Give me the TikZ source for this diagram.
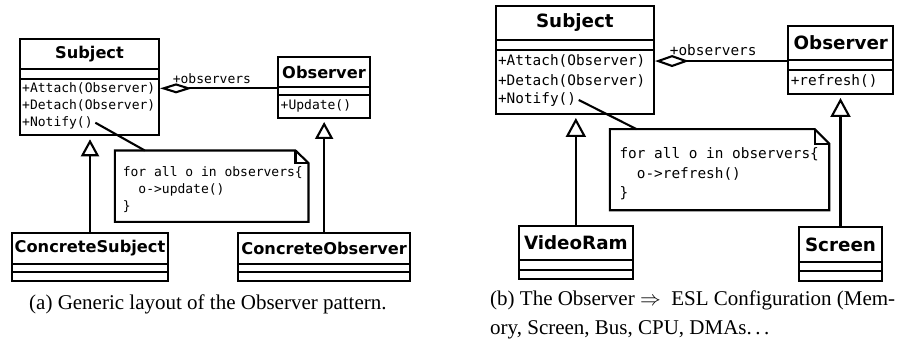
\documentclass[tikz,border=0pt]{standalone}
\usepackage{fontspec}
\setmainfont{Liberation Serif}
\newfontfamily\umlsans{DejaVu Sans}
\newfontfamily\umlmono{DejaVu Sans Mono}
\usetikzlibrary{arrows.meta,fit,calc}

\tikzset{
  box/.style={draw, line width=2.1pt, inner sep=0pt},
  wire/.style={line width=2.1pt},
  gentip/.style={wire, shorten >=#1},
  genA/.style={gentip=3.2pt, -{Triangle[open,length=17pt,width=18pt]}},
  genB/.style={gentip=2.6pt, -{Triangle[open,length=19pt,width=20pt]}},
  aggrA/.style={wire, -{Diamond[open,length=32pt,width=10pt]}},
  aggrB/.style={wire, -{Diamond[open,length=34pt,width=12pt]}},
  nameA/.style={font=\umlsans\bfseries\fontsize{16.2}{19}\selectfont, inner sep=0pt},
  nameB/.style={font=\umlsans\bfseries\fontsize{18.3}{22}\selectfont, inner sep=0pt},
  opA/.style={font=\umlmono\fontsize{13}{16}\selectfont, inner sep=0pt, anchor=west},
  opB/.style={font=\umlmono\fontsize{14.4}{17}\selectfont, inner sep=0pt, anchor=west},
  txtA/.style={font=\umlmono\fontsize{13}{16}\selectfont, inner sep=0pt, anchor=base west},
  txtB/.style={font=\umlmono\fontsize{14.4}{17}\selectfont, inner sep=0pt, anchor=base west},
  capt/.style={font=\fontsize{21}{25}\selectfont, inner sep=0pt},
  notebox/.style={inner sep=0pt},
}

\begin{document}
\begin{tikzpicture}[x=1pt,y=-1pt]
\useasboundingbox (0,0) rectangle (899,341);

% ---------------- (a) generic layout ----------------
% Subject
\node[box, fit={(20,39.3) (159,69.3)}] (subjA) {};
\node[box, fit={(20,69.3) (159,79.3)}] (subjAattr) {};
\node[box, fit={(20,79.3) (159,135)}] (subjAops) {};
\node[nameA] (subjAname) at (subjA.center) {Subject};
\node[opA] (attachA) at (22,88.3) {+Attach(Observer)};
\node[opA] (detachA) at (22,105.6) {+Detach(Observer)};
\node[opA] (notifyA) at (22,122.7) {+Notify()};

% Observer
\node[box, fit={(278,56.7) (370,87.3)}] (obsA) {};
\node[box, fit={(278,87.3) (370,95.3)}] (obsAattr) {};
\node[box, fit={(278,95.3) (370,117.7)}] (obsAops) {};
\node[nameA] (obsAname) at (obsA.center) {Observer};
\node[opA] (updateA) at (280.5,106.2) {+Update()};

% ConcreteSubject
\node[box, fit={(11.7,232.7) (168.3,264)}] (csA) {};
\node[box, fit={(11.7,264) (168.3,272)}] (csAattr) {};
\node[box, fit={(11.7,272) (168.3,280.7)}] (csAops) {};
\node[nameA] (csAname) at (csA.center) {ConcreteSubject};

% ConcreteObserver
\node[box, fit={(238.3,232.7) (410,264)}] (coA) {};
\node[box, fit={(238.3,264) (410,272)}] (coAattr) {};
\node[box, fit={(238.3,272) (410,280.7)}] (coAops) {};
\node[nameA] (coAname) at (coA.center) {ConcreteObserver};

% note
\node[notebox, fit={(115,150.7) (308.3,221.7)}] (noteA) {};
\draw[wire, line join=miter] ($(noteA.north east)+(-13,0)$) -- (noteA.north west)
  -- (noteA.south west) -- (noteA.south east) -- ($(noteA.north east)+(0,12.5)$) -- cycle;
\draw[wire] ($(noteA.north east)+(-13,0)$) -- ++(0,12.5) -- ($(noteA.north east)+(0,12.5)$);
\node[txtA] (noteA1) at (122.6,176.2) {for all o in observers\{};
\node[txtA] (noteA2) at (122.6,193.5) {\ \ o->update()};
\node[txtA] (noteA3) at (122.6,210.8) {\}};

% connectors
\draw[aggrA] (obsA.south west) -- (subjAops.east |- obsA.south)
  node[opA, pos=0.9, yshift=9.5pt] (rolesA) {+observers};
\draw[genA] (csA.north) -- (csA.north |- subjAops.south);
\draw[genA] (coA.north) -- (coA.north |- obsAops.south);
\draw[wire] ([xshift=2.5pt]notifyA.east) -- ($(noteA.north west)+(30,0)$);

% ---------------- (b) ESL configuration ----------------
% Subject
\node[box, fit={(495.7,6) (654,40)}] (subjB) {};
\node[box, fit={(495.7,40) (654,50)}] (subjBattr) {};
\node[box, fit={(495.7,50) (654,114.3)}] (subjBops) {};
\node[nameB] (subjBname) at (subjB.center) {Subject};
\node[opB] (attachB) at (497.8,61.3) {+Attach(Observer)};
\node[opB] (detachB) at (497.8,80.8) {+Detach(Observer)};
\node[opB] (notifyB) at (497.8,100) {+Notify()};

% Observer
\node[box, fit={(788.3,26) (893.3,60)}] (obsB) {};
\node[box, fit={(788.3,60) (893.3,70)}] (obsBattr) {};
\node[box, fit={(788.3,70) (893.3,94.3)}] (obsBops) {};
\node[nameB] (obsBname) at (obsB.center) {Observer};
\node[opB] (refreshB) at (790.6,81.3) {+refresh()};

% VideoRam
\node[box, fit={(519,226) (632.7,260)}] (vrB) {};
\node[box, fit={(519,260) (632.7,270)}] (vrBattr) {};
\node[box, fit={(519,270) (632.7,279.3)}] (vrBops) {};
\node[nameB] (vrBname) at (vrB.center) {VideoRam};

% Screen
\node[box, fit={(799.3,227.3) (881.7,261.7)}] (scB) {};
\node[box, fit={(799.3,261.7) (881.7,270.7)}] (scBattr) {};
\node[box, fit={(799.3,270.7) (881.7,280.7)}] (scBops) {};
\node[nameB] (scBname) at (scB.center) {Screen};

% note
\node[notebox, fit={(610,129.3) (829,210)}] (noteB) {};
\draw[wire, line join=miter] ($(noteB.north east)+(-14.5,0)$) -- (noteB.north west)
  -- (noteB.south west) -- (noteB.south east) -- ($(noteB.north east)+(0,14.5)$) -- cycle;
\draw[wire] ($(noteB.north east)+(-14.5,0)$) -- ++(0,14.5) -- ($(noteB.north east)+(0,14.5)$);
\node[txtB] (noteB1) at (619.3,158.8) {for all o in observers\{};
\node[txtB] (noteB2) at (619.3,178.2) {\ \ o->refresh()};
\node[txtB] (noteB3) at (619.3,197.8) {\}};

% connectors
\draw[aggrB] (obsB.south west) -- (subjBops.east |- obsB.south)
  node[opB, pos=0.896, yshift=10.5pt] (rolesB) {+observers};
\draw[genB] (vrB.north) -- (vrB.north |- subjBops.south);
\draw[genB] (scB.north) -- (scB.north |- obsBops.south);
\draw[wire] ([xshift=2.5pt]notifyB.east) -- ($(noteB.north west)+(26.7,0)$);

% ---------------- captions ----------------
\node[capt, anchor=base] (captA) at (207.9,309.3) {(a) Generic layout of the Observer pattern.};
\node[capt, anchor=base west] (captB1) at (490,305.7)
  {\hbox to 405pt{(b) The Observer $\Rightarrow$ \ ESL Configuration (Mem-}};
\node[capt, anchor=base west] (captB2) at (490,334.3) {ory, Screen, Bus, CPU, DMAs.\,.\,.};
\end{tikzpicture}
\end{document}
